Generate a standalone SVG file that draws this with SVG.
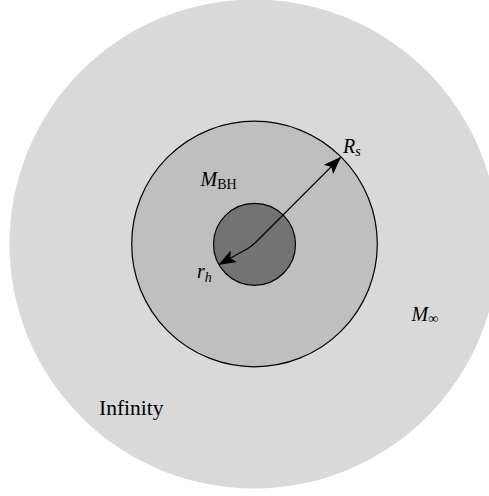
<svg xmlns="http://www.w3.org/2000/svg" width="489" height="496" viewBox="0 0 489 496">
<style>
.lbl{font-family:"Liberation Serif","DejaVu Serif",serif;fill:#000}
.it{font-style:italic}
.sub{font-size:14px}
.ring{stroke:#000;stroke-width:1.2}
</style>
<defs>
<marker id="ah" viewBox="0 0 18 13" refX="17" refY="6.5" markerWidth="18" markerHeight="13" markerUnits="userSpaceOnUse" orient="auto-start-reverse">
<path d="M0,0 L18,6.5 L0,13 L4,6.5 Z" fill="#000"/>
</marker>
</defs>
<rect width="489" height="496" fill="#fff"/>
<g id="infinity-region">
<circle cx="254" cy="244" r="244.5" fill="#d9d9d9"/>
</g>
<g id="sphere">
<circle class="ring" cx="254.5" cy="244" r="122.8" fill="#bfbfbf"/>
</g>
<g id="black-hole">
<circle class="ring" cx="254.5" cy="244.3" r="41" fill="#737373"/>
</g>
<g id="connectors">
<path d="M219,264.5 L247,249 Q252,246 256,242 L340.5,157.5" fill="none" stroke="#000" stroke-width="1.2" marker-start="url(#ah)" marker-end="url(#ah)"/>
</g>
<g id="labels">
<text class="lbl it" x="343" y="152.5" font-size="20">R<tspan class="sub" dy="3">s</tspan></text>
<text class="lbl it" x="200.5" y="185.5" font-size="20">M<tspan class="sub" font-style="normal" dx="0" dy="3">BH</tspan></text>
<text class="lbl it" x="197" y="278" font-size="20">r<tspan class="sub" dy="3.5">h</tspan></text>
<text class="lbl it" x="411.5" y="320.5" font-size="20">M<tspan class="sub" font-style="normal" dy="2.5">∞</tspan></text>
<text class="lbl" x="99" y="415" font-size="21.5">Infinity</text>
</g>
</svg>
